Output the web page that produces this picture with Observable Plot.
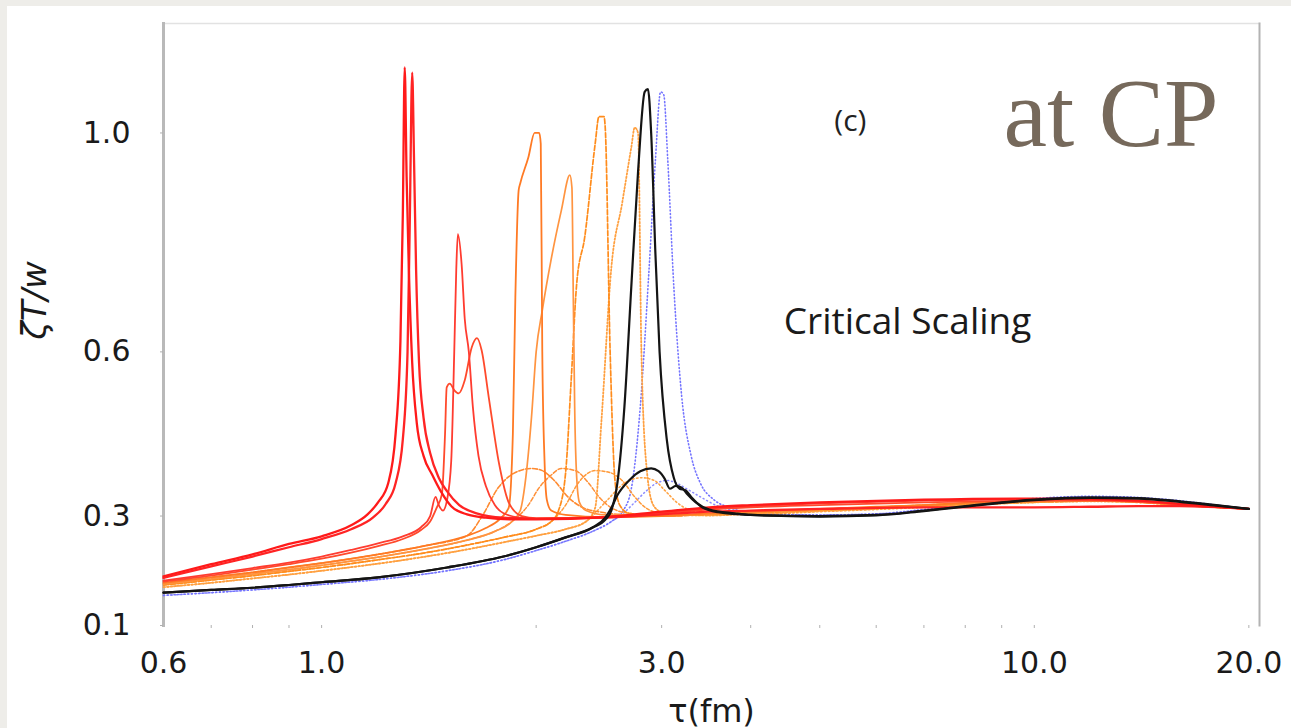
<!DOCTYPE html>
<html>
<head>
<meta charset="utf-8">
<script src="https://cdn.jsdelivr.net/npm/d3@7"></script>
<script src="https://cdn.jsdelivr.net/npm/@observablehq/plot@0.6"></script>
<style>
  html, body { margin: 0; padding: 0; background: #eeede9; width: 1291px; height: 728px; overflow: hidden; }
  #panel { position: absolute; left: 7px; top: 6px; width: 1284px; height: 722px; background: #ffffff; }
  #chart { position: absolute; left: 0; top: 0; }
</style>
</head>
<body>
<div id="panel"></div>
<div id="chart"></div>
<script>
// ---- tick values ----
const tauTicks = [0.6, 1, 3, 10, 20];
const tauMinorTicks = [0.7, 0.8, 0.9, 1, 2, 3, 4, 5, 6, 7, 8, 9, 10, 20];
const yTicks = [0.1, 0.3, 0.6, 1.0];

// ---- series: [tau (fm), zeta T / w] ----
const redA = [[0.6,0.19],[0.7,0.212],[0.8,0.23],[0.9,0.249],[1.0,0.263],[1.1,0.283],[1.16,0.303],[1.2,0.325],[1.24,0.36],[1.27,0.45],[1.29,0.62],[1.3,0.85],[1.308,1.12],[1.316,0.92],[1.325,0.76],[1.34,0.58],[1.36,0.47],[1.39,0.41],[1.43,0.375],[1.47,0.345],[1.52,0.318],[1.6,0.303],[1.7,0.297],[1.85,0.294],[2.0,0.294],[2.5,0.298],[3.0,0.308],[3.5,0.316],[4,0.32],[5,0.325],[7,0.33],[10,0.332],[12,0.331],[14,0.328],[16,0.322],[20,0.313]];
const redB = [[0.6,0.187],[0.7,0.208],[0.8,0.226],[0.9,0.243],[1.0,0.258],[1.1,0.276],[1.18,0.297],[1.23,0.322],[1.27,0.36],[1.3,0.44],[1.32,0.6],[1.33,0.85],[1.34,1.11],[1.348,0.95],[1.357,0.75],[1.37,0.58],[1.39,0.48],[1.42,0.415],[1.46,0.37],[1.5,0.345],[1.56,0.32],[1.65,0.305],[1.8,0.297],[2.0,0.295],[2.5,0.297],[3.0,0.303],[3.5,0.308],[4,0.31],[5,0.313],[7,0.316],[10,0.316],[12,0.317],[14,0.318],[16,0.318],[20,0.313]];
const redC = [[0.6,0.182],[0.7,0.194],[0.8,0.205],[0.9,0.215],[1.0,0.226],[1.1,0.238],[1.2,0.25],[1.3,0.263],[1.38,0.28],[1.42,0.3],[1.445,0.335],[1.46,0.32],[1.48,0.31],[1.5,0.33],[1.52,0.4],[1.535,0.6],[1.545,0.75],[1.553,0.815],[1.572,0.76],[1.588,0.66],[1.609,0.6],[1.63,0.5],[1.66,0.41],[1.7,0.355],[1.75,0.32],[1.8,0.305],[1.9,0.297],[2.0,0.295],[2.5,0.298],[3.0,0.306],[3.5,0.314],[4,0.318],[5,0.323],[7,0.328],[10,0.33],[12,0.33],[14,0.327],[16,0.322],[20,0.313]];
const redD = [[0.6,0.18],[0.7,0.191],[0.8,0.202],[0.9,0.212],[1.0,0.222],[1.1,0.233],[1.2,0.245],[1.3,0.258],[1.38,0.275],[1.42,0.29],[1.45,0.315],[1.475,0.34],[1.49,0.45],[1.498,0.535],[1.513,0.542],[1.535,0.53],[1.557,0.524],[1.588,0.548],[1.624,0.608],[1.652,0.625],[1.677,0.603],[1.716,0.517],[1.774,0.396],[1.833,0.323],[1.91,0.3],[2.0,0.296],[2.5,0.298],[3.0,0.305],[3.5,0.312],[4,0.316],[5,0.32],[7,0.325],[10,0.328],[12,0.328],[14,0.326],[16,0.321],[20,0.313]];
const orangeE = [[0.6,0.178],[0.7,0.188],[0.8,0.197],[0.9,0.206],[1.0,0.214],[1.2,0.23],[1.4,0.246],[1.6,0.264],[1.7,0.278],[1.78,0.295],[1.83,0.315],[1.855,0.45],[1.87,0.7],[1.89,0.895],[1.9,0.908],[1.95,0.955],[1.99,1.0],[2.02,1.0],[2.03,0.98],[2.04,0.6],[2.055,0.4],[2.07,0.33],[2.1,0.31],[2.2,0.302],[2.5,0.298],[3.0,0.3],[3.5,0.305],[4,0.308],[5,0.313],[6,0.317],[7,0.32],[8,0.324],[10,0.328],[12,0.33],[14,0.328],[16,0.322],[20,0.313]];
const orangeEhump = [[0.6,0.178],[0.7,0.188],[0.8,0.197],[0.9,0.206],[1.0,0.214],[1.2,0.23],[1.4,0.246],[1.6,0.264],[1.68,0.3],[1.77,0.352],[1.86,0.378],[1.97,0.387],[2.04,0.383],[2.12,0.365],[2.22,0.334],[2.32,0.316],[2.47,0.307],[2.7,0.302],[3.0,0.3],[3.5,0.304],[4,0.307],[5,0.312],[6,0.316],[7,0.32],[8,0.323],[10,0.327],[12,0.329],[14,0.327],[16,0.321],[20,0.313]];
const orangeF = [[0.6,0.176],[0.7,0.185],[0.8,0.194],[0.9,0.202],[1.0,0.21],[1.2,0.225],[1.4,0.24],[1.6,0.256],[1.75,0.272],[1.85,0.29],[1.9,0.31],[1.93,0.36],[1.97,0.48],[2.0,0.6],[2.04,0.676],[2.1,0.77],[2.17,0.859],[2.23,0.923],[2.245,0.9],[2.255,0.7],[2.265,0.5],[2.28,0.37],[2.3,0.325],[2.35,0.31],[2.5,0.302],[3.0,0.3],[3.5,0.304],[4,0.307],[5,0.312],[6,0.316],[7,0.32],[8,0.323],[10,0.327],[12,0.329],[14,0.327],[16,0.321],[20,0.313]];
const orangeFhump = [[0.6,0.176],[0.7,0.185],[0.8,0.194],[0.9,0.202],[1.0,0.21],[1.2,0.225],[1.4,0.24],[1.6,0.256],[1.75,0.272],[1.85,0.29],[1.95,0.32],[2.02,0.352],[2.1,0.375],[2.17,0.387],[2.27,0.383],[2.37,0.36],[2.45,0.335],[2.55,0.315],[2.7,0.305],[3.0,0.3],[3.5,0.303],[4,0.306],[5,0.311],[6,0.315],[7,0.319],[8,0.322],[10,0.326],[12,0.328],[14,0.326],[16,0.32],[20,0.313]];
const orangeG = [[0.6,0.174],[0.7,0.183],[0.8,0.191],[0.9,0.199],[1.0,0.206],[1.2,0.22],[1.4,0.233],[1.6,0.247],[1.8,0.261],[2.0,0.276],[2.1,0.29],[2.15,0.31],[2.2,0.38],[2.24,0.55],[2.28,0.725],[2.34,0.81],[2.42,0.98],[2.45,1.03],[2.49,1.03],[2.5,1.01],[2.54,0.6],[2.58,0.365],[2.62,0.32],[2.7,0.305],[3.0,0.3],[3.5,0.303],[4,0.306],[5,0.311],[6,0.315],[7,0.319],[8,0.322],[10,0.326],[12,0.328],[14,0.326],[16,0.32],[20,0.313]];
const orangeGhump = [[0.6,0.174],[0.7,0.183],[0.8,0.191],[0.9,0.199],[1.0,0.206],[1.2,0.22],[1.4,0.233],[1.6,0.247],[1.8,0.261],[2.0,0.276],[2.1,0.29],[2.2,0.32],[2.29,0.36],[2.42,0.383],[2.53,0.38],[2.64,0.365],[2.75,0.335],[2.85,0.315],[3.0,0.305],[3.5,0.302],[4,0.305],[5,0.31],[6,0.314],[7,0.318],[8,0.321],[10,0.325],[12,0.327],[14,0.325],[16,0.32],[20,0.313]];
const orangeH = [[0.6,0.17],[0.7,0.178],[0.8,0.186],[0.9,0.193],[1.0,0.2],[1.2,0.213],[1.4,0.226],[1.6,0.239],[1.8,0.252],[2.0,0.264],[2.2,0.276],[2.35,0.29],[2.42,0.315],[2.47,0.475],[2.55,0.754],[2.64,0.871],[2.72,0.974],[2.75,1.01],[2.78,1.0],[2.81,0.6],[2.86,0.383],[2.92,0.32],[3.0,0.307],[3.2,0.302],[3.5,0.301],[4,0.304],[5,0.309],[6,0.313],[7,0.317],[8,0.32],[10,0.325],[12,0.327],[14,0.325],[16,0.32],[20,0.313]];
const orangeHhump = [[0.6,0.17],[0.7,0.178],[0.8,0.186],[0.9,0.193],[1.0,0.2],[1.2,0.213],[1.4,0.226],[1.6,0.239],[1.8,0.252],[2.0,0.264],[2.2,0.276],[2.35,0.29],[2.5,0.325],[2.66,0.36],[2.81,0.37],[2.93,0.365],[3.03,0.347],[3.15,0.325],[3.3,0.31],[3.6,0.303],[4,0.303],[5,0.308],[6,0.312],[7,0.316],[8,0.32],[10,0.325],[12,0.327],[14,0.325],[16,0.32],[20,0.313]];
const blackSpike = [[0.6,0.16],[0.7,0.165],[0.8,0.169],[0.9,0.174],[1.0,0.179],[1.2,0.188],[1.5,0.206],[1.8,0.226],[2.0,0.243],[2.2,0.261],[2.4,0.279],[2.5,0.293],[2.55,0.31],[2.6,0.36],[2.66,0.5],[2.72,0.72],[2.78,0.93],[2.84,1.075],[2.87,1.08],[2.9,1.0],[2.94,0.78],[2.98,0.6],[3.05,0.44],[3.12,0.37],[3.18,0.35],[3.24,0.347],[3.3,0.335],[3.42,0.316],[3.6,0.307],[4.0,0.302],[5,0.3],[6,0.302],[7,0.31],[8,0.318],[10,0.33],[12,0.334],[14,0.333],[16,0.327],[18,0.32],[20,0.313]];
const blackHump = [[0.6,0.16],[0.7,0.165],[0.8,0.169],[0.9,0.174],[1.0,0.179],[1.2,0.188],[1.5,0.206],[1.8,0.226],[2.0,0.243],[2.2,0.261],[2.4,0.279],[2.5,0.297],[2.55,0.315],[2.6,0.338],[2.7,0.365],[2.8,0.382],[2.9,0.387],[2.97,0.382],[3.03,0.368],[3.08,0.35],[3.14,0.355],[3.2,0.352],[3.26,0.34],[3.35,0.325],[3.5,0.312],[3.8,0.305],[4.0,0.302],[5,0.299],[6,0.301],[7,0.309],[8,0.317],[10,0.329],[12,0.333],[14,0.332],[16,0.326],[18,0.319],[20,0.313]];
const blueSpike = [[0.6,0.155],[0.7,0.16],[0.8,0.165],[0.9,0.17],[1.0,0.175],[1.2,0.184],[1.5,0.2],[1.8,0.22],[2.0,0.237],[2.2,0.254],[2.4,0.272],[2.55,0.29],[2.65,0.31],[2.72,0.35],[2.8,0.5],[2.88,0.75],[2.94,0.95],[2.99,1.075],[3.02,1.07],[3.06,0.95],[3.12,0.72],[3.2,0.52],[3.3,0.41],[3.4,0.36],[3.55,0.33],[3.75,0.315],[4.0,0.305],[5,0.302],[6,0.304],[7,0.312],[8,0.32],[10,0.332],[12,0.336],[14,0.334],[16,0.328],[18,0.32],[20,0.313]];
const blueHump = [[0.6,0.155],[0.7,0.16],[0.8,0.165],[0.9,0.17],[1.0,0.175],[1.2,0.184],[1.5,0.2],[1.8,0.22],[2.0,0.237],[2.2,0.254],[2.4,0.272],[2.55,0.29],[2.65,0.305],[2.75,0.325],[2.85,0.345],[2.95,0.36],[3.05,0.365],[3.15,0.36],[3.25,0.35],[3.4,0.335],[3.6,0.318],[3.9,0.307],[4.2,0.303],[5,0.302],[6,0.304],[7,0.311],[8,0.319],[10,0.331],[12,0.335],[14,0.333],[16,0.327],[18,0.32],[20,0.313]];

// ---- styles (draw order) ----
const seriesList = [
  {data: blueHump,    stroke: "#8c8cff", strokeWidth: 1.5, strokeDasharray: "1,3"},
  {data: blueSpike,   stroke: "#7474ff", strokeWidth: 1.6, strokeDasharray: "1,2.5"},
  {data: orangeHhump, stroke: "#ffa446", strokeWidth: 1.6, strokeDasharray: "1.5,2.5"},
  {data: orangeGhump, stroke: "#ff9a3a", strokeWidth: 1.5, strokeDasharray: "3,2"},
  {data: orangeFhump, stroke: "#ff9038", strokeWidth: 1.5, strokeDasharray: "4,2"},
  {data: orangeEhump, stroke: "#ff8a30", strokeWidth: 1.6, strokeDasharray: "5,2"},
  {data: orangeH,     stroke: "#ffa040", strokeWidth: 1.8, strokeDasharray: "1.5,2"},
  {data: orangeG,     stroke: "#ff8c1c", strokeWidth: 1.7, strokeDasharray: "5,2"},
  {data: orangeF,     stroke: "#ff9440", strokeWidth: 1.7},
  {data: orangeE,     stroke: "#ff7a24", strokeWidth: 1.8},
  {data: redD,        stroke: "#ff4a2c", strokeWidth: 1.8},
  {data: redC,        stroke: "#ff3c30", strokeWidth: 1.8},
  {data: redB,        stroke: "#ff2424", strokeWidth: 2.3},
  {data: redA,        stroke: "#ff1a1a", strokeWidth: 2.3},
  {data: blackHump,   stroke: "#141414", strokeWidth: 2.2},
  {data: blackSpike,  stroke: "#141414", strokeWidth: 2.2}
];

const fmt1 = d3.format(".1f");

const lineMarks = seriesList.map(s => Plot.line(s.data, {
  x: d => d[0], y: d => d[1], curve: "monotone-x",
  stroke: s.stroke, strokeWidth: s.strokeWidth,
  strokeDasharray: s.strokeDasharray, strokeLinejoin: "round"
}));

const plot = Plot.plot({
  width: 1291,
  height: 728,
  marginLeft: 163,
  marginRight: 32,
  marginTop: 23,
  marginBottom: 103,
  style: {background: "transparent", fontFamily: "DejaVu Sans", fontSize: "30px", color: "#1a1a1a", overflow: "visible"},
  x: {type: "log", domain: [0.6, 20.7]},
  y: {type: "linear", domain: [0.1, 1.2]},
  marks: [
    Plot.frame({anchor: "top", stroke: "#e2e2e2", strokeWidth: 1.5}),
    Plot.frame({anchor: "left", stroke: "#b9b9b9", strokeWidth: 3}),
    Plot.frame({anchor: "right", stroke: "#b3b3b3", strokeWidth: 2}),
    Plot.axisX({ticks: tauMinorTicks, tickSize: 3, tickFormat: () => "", stroke: "#b0b0b0", label: null}),
    Plot.axisX({ticks: tauTicks, tickSize: 0, tickPadding: 26, tickFormat: fmt1, fontSize: 30, fill: "#1a1a1a", label: null}),
    Plot.axisY({ticks: yTicks, tickSize: 3, tickPadding: 30, tickFormat: fmt1, fontSize: 30, fill: "#1a1a1a", stroke: "#b0b0b0", label: null}),
    ...lineMarks,
    Plot.text(["τ(fm)"], {frameAnchor: "bottom", dy: 86, lineAnchor: "middle", fontSize: 32, fill: "#1a1a1a"}),
    Plot.text(["ζT/w"], {frameAnchor: "left", dx: -128, y: [0.694], rotate: -90, textAnchor: "middle", lineAnchor: "middle", fontSize: 34, fontStyle: "italic", fill: "#1a1a1a"}),
    Plot.text(["(c)"], {x: [5.52], y: [1.021], textAnchor: "middle", lineAnchor: "middle", fontSize: 30, fontFamily: "Open Sans", fill: "#222"}),
    Plot.text(["Critical Scaling"], {x: [6.64], y: [0.655], textAnchor: "middle", lineAnchor: "middle", fontSize: 37, fontFamily: "Open Sans", fill: "#1a1a1a"}),
    Plot.text(["at CP"], {x: [9.05], y: [1.034], textAnchor: "start", lineAnchor: "middle", fontSize: 98, fontFamily: "Liberation Serif", fill: "#76695b"})
  ]
});

document.getElementById("chart").appendChild(plot);
</script>
</body>
</html>
